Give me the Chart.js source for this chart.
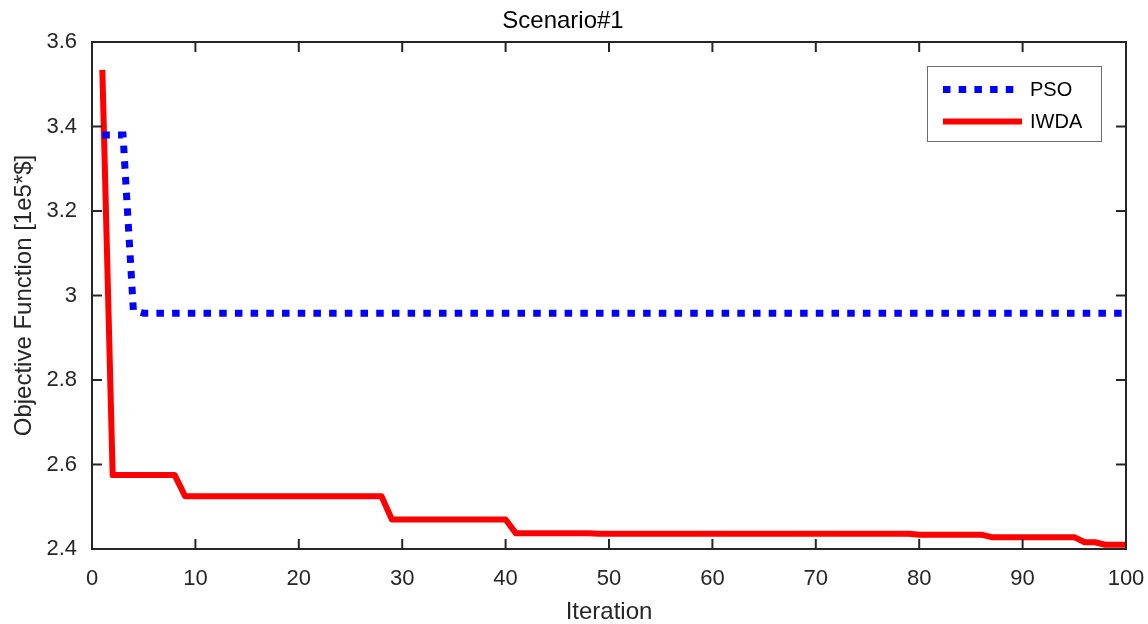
<!DOCTYPE html>
<html>
<head>
<meta charset="utf-8">
<script src="https://cdn.jsdelivr.net/npm/chart.js@4/dist/chart.umd.min.js"></script>
<style>
  html, body { margin: 0; padding: 0; background: #ffffff; }
  #wrap { width: 1148px; height: 624px; position: relative; }
</style>
</head>
<body>
<div id="wrap"><canvas id="c" width="1148" height="624"></canvas></div>
<script>
// ---- data ----
const iterations = [
  1,2,3,4,5,6,7,8,9,10,11,12,13,14,15,16,17,18,19,20,
  21,22,23,24,25,26,27,28,29,30,31,32,33,34,35,36,37,38,39,40,
  41,42,43,44,45,46,47,48,49,50,51,52,53,54,55,56,57,58,59,60,
  61,62,63,64,65,66,67,68,69,70,71,72,73,74,75,76,77,78,79,80,
  81,82,83,84,85,86,87,88,89,90,91,92,93,94,95,96,97,98,99,100
];
const psoValues = [
  3.380,3.380,3.380,2.965,2.958,2.958,2.958,2.958,2.958,2.958,
  2.958,2.958,2.958,2.958,2.958,2.958,2.958,2.958,2.958,2.958,
  2.958,2.958,2.958,2.958,2.958,2.958,2.958,2.958,2.958,2.958,
  2.958,2.958,2.958,2.958,2.958,2.958,2.958,2.958,2.958,2.958,
  2.958,2.958,2.958,2.958,2.958,2.958,2.958,2.958,2.958,2.958,
  2.958,2.958,2.958,2.958,2.958,2.958,2.958,2.958,2.958,2.958,
  2.958,2.958,2.958,2.958,2.958,2.958,2.958,2.958,2.958,2.958,
  2.958,2.958,2.958,2.958,2.958,2.958,2.958,2.958,2.958,2.958,
  2.958,2.958,2.958,2.958,2.958,2.958,2.958,2.958,2.958,2.958,
  2.958,2.958,2.958,2.958,2.958,2.958,2.958,2.958,2.958,2.958
];
const iwdaValues = [
  3.534,2.575,2.575,2.575,2.575,2.575,2.575,2.575,2.525,2.525,
  2.525,2.525,2.525,2.525,2.525,2.525,2.525,2.525,2.525,2.525,
  2.525,2.525,2.525,2.525,2.525,2.525,2.525,2.525,2.470,2.470,
  2.470,2.470,2.470,2.470,2.470,2.470,2.470,2.470,2.470,2.470,
  2.437,2.437,2.437,2.437,2.437,2.437,2.437,2.437,2.436,2.436,
  2.436,2.436,2.436,2.436,2.436,2.436,2.436,2.436,2.436,2.436,
  2.436,2.436,2.436,2.436,2.436,2.436,2.436,2.436,2.436,2.436,
  2.436,2.436,2.436,2.436,2.436,2.436,2.436,2.436,2.436,2.434,
  2.434,2.434,2.434,2.434,2.434,2.434,2.428,2.428,2.428,2.428,
  2.428,2.428,2.428,2.428,2.428,2.416,2.416,2.410,2.410,2.410
];
const seriesNames = ["PSO", "IWDA"];
const xTickValues = [0,10,20,30,40,50,60,70,80,90,100];
const yTickValues = [2.4,2.6,2.8,3.0,3.2,3.4,3.6];
const yTickLabels = ["2.4","2.6","2.8","3","3.2","3.4","3.6"];
const chartTitle = "Scenario#1";
const xTitle = "Iteration";
const yTitle = "Objective Function [1e5*$]";

// ---- styling ----
const FONT = "'Liberation Sans', Arial, Helvetica, sans-serif";
const AXIS_COLOR = "#262626";

const boxAndTicks = {
  id: 'boxAndTicks',
  afterDatasetsDraw(chart) {
    const ctx = chart.ctx;
    const a = chart.chartArea;
    const xs = chart.scales.x, ys = chart.scales.y;
    ctx.save();
    ctx.strokeStyle = AXIS_COLOR;
    ctx.lineWidth = 2;
    ctx.lineCap = 'butt';
    ctx.strokeRect(a.left, a.top, a.right - a.left, a.bottom - a.top);
    const TL = 10;
    ctx.beginPath();
    xTickValues.forEach(v => {
      const p = xs.getPixelForValue(v);
      ctx.moveTo(p, a.bottom); ctx.lineTo(p, a.bottom - TL);
      ctx.moveTo(p, a.top); ctx.lineTo(p, a.top + TL);
    });
    yTickValues.forEach(v => {
      const p = ys.getPixelForValue(v);
      ctx.moveTo(a.left, p); ctx.lineTo(a.left + TL, p);
      ctx.moveTo(a.right, p); ctx.lineTo(a.right - TL, p);
    });
    ctx.stroke();

    // legend box (top right, inside the axes)
    const lx = a.right - 199, ly = a.top + 24, lw = 174, lh = 75;
    ctx.fillStyle = '#ffffff';
    ctx.fillRect(lx, ly, lw, lh);
    ctx.strokeStyle = '#6e6e6e';
    ctx.lineWidth = 1;
    ctx.strokeRect(lx + 0.5, ly + 0.5, lw, lh);
    const ds = chart.data.datasets;
    const rows = [ly + 23.5, ly + 55.5];
    ds.forEach((d, i) => {
      ctx.save();
      ctx.strokeStyle = d.borderColor;
      ctx.lineWidth = d.borderWidth;
      ctx.lineCap = 'butt';
      ctx.setLineDash(d.borderDash || []);
      ctx.beginPath();
      ctx.moveTo(lx + 16, rows[i]);
      ctx.lineTo(lx + (i === 0 ? 89 : 95), rows[i]);
      ctx.stroke();
      ctx.restore();
      ctx.fillStyle = '#000000';
      ctx.font = '20px ' + FONT;
      ctx.textBaseline = 'middle';
      ctx.textAlign = 'left';
      ctx.fillText(d.label, lx + 103, rows[i] + 1);
    });
    ctx.restore();
  }
};

const ctx = document.getElementById('c').getContext('2d');
new Chart(ctx, {
  type: 'line',
  data: {
    datasets: [
      {
        label: seriesNames[0],
        data: iterations.map((x, i) => ({ x: x, y: psoValues[i] })),
        borderColor: '#0000ff',
        borderWidth: 7,
        borderDash: [7.5, 8.2],
        borderCapStyle: 'butt',
        pointRadius: 0,
        tension: 0,
        fill: false,
        clip: 0
      },
      {
        label: seriesNames[1],
        data: iterations.map((x, i) => ({ x: x, y: iwdaValues[i] })),
        borderColor: '#ff0000',
        borderWidth: 6,
        borderJoinStyle: 'round',
        pointRadius: 0,
        tension: 0,
        fill: false,
        clip: 0
      }
    ]
  },
  options: {
    responsive: false,
    animation: false,
    devicePixelRatio: 1,
    layout: { padding: { left: 0, right: 22, top: 0, bottom: 0 } },
    plugins: {
      legend: { display: false },
      tooltip: { enabled: false },
      title: {
        display: true,
        text: chartTitle,
        color: '#000000',
        font: { family: FONT, size: 24, weight: 'normal', lineHeight: 1.2 },
        padding: { top: 6.6, bottom: 6.6 }
      }
    },
    scales: {
      x: {
        type: 'linear',
        min: 0, max: 100,
        afterFit(s) { s.height = 75; s.paddingRight = 0; s.paddingLeft = 0; },
        afterBuildTicks(s) { s.ticks = xTickValues.map(v => ({ value: v })); },
        grid: { display: false, drawTicks: false },
        border: { display: false },
        ticks: {
          color: '#262626',
          font: { family: FONT, size: 22 },
          padding: 17,
          maxRotation: 0,
          autoSkip: false,
          callback: (v) => String(v)
        },
        title: {
          display: true,
          text: xTitle,
          color: '#262626',
          font: { family: FONT, size: 24, lineHeight: 1 },
          padding: { top: 0, bottom: 0 }
        }
      },
      y: {
        type: 'linear',
        min: 2.4, max: 3.6,
        afterFit(s) { s.width = 92; s.paddingTop = 0; s.paddingBottom = 0; },
        afterBuildTicks(s) { s.ticks = yTickValues.map(v => ({ value: v })); },
        grid: { display: false, drawTicks: false },
        border: { display: false },
        ticks: {
          color: '#262626',
          font: { family: FONT, size: 22 },
          padding: 15,
          autoSkip: false,
          callback: (v) => {
            const i = yTickValues.findIndex(t => Math.abs(t - v) < 1e-9);
            return i >= 0 ? yTickLabels[i] : '';
          }
        },
        title: {
          display: true,
          text: yTitle,
          color: '#262626',
          font: { family: FONT, size: 24, lineHeight: 1 },
          padding: { top: 12, bottom: 0 }
        }
      }
    }
  },
  plugins: [boxAndTicks]
});
</script>
</body>
</html>
